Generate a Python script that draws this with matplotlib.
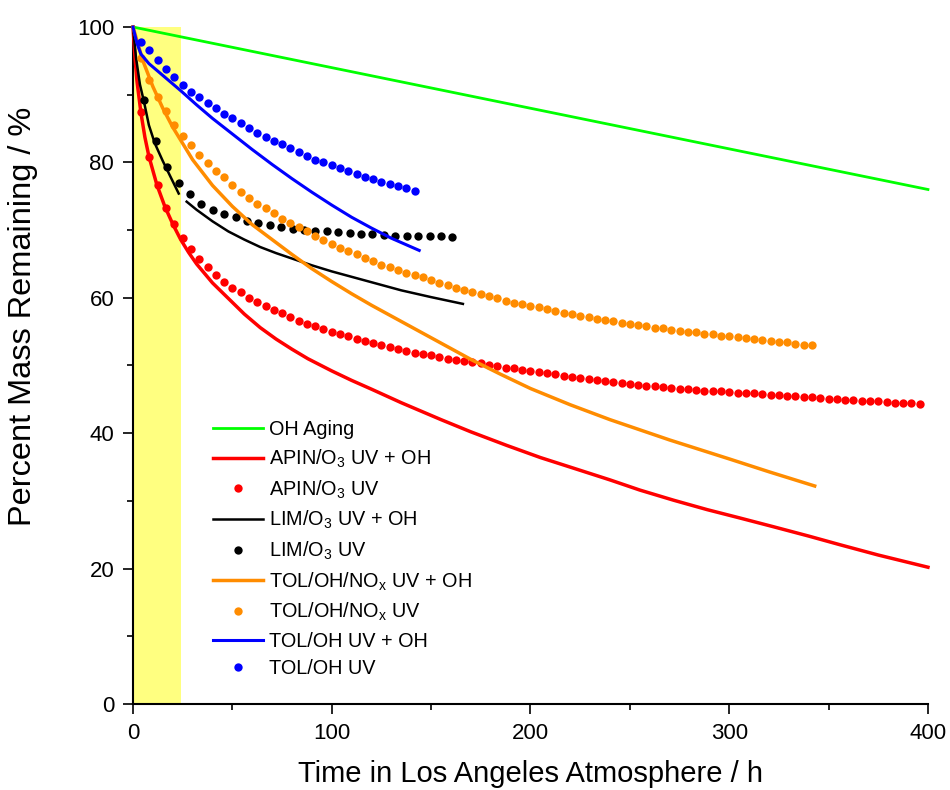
import matplotlib
matplotlib.use("Agg")
import matplotlib.pyplot as plt
from matplotlib.lines import Line2D
from matplotlib.ticker import MultipleLocator

plt.rcParams['font.family'] = ['Liberation Sans', 'DejaVu Sans']
plt.rcParams['mathtext.fontset'] = 'custom'
plt.rcParams['mathtext.rm'] = 'Liberation Sans'
plt.rcParams['mathtext.it'] = 'Liberation Sans:italic'
plt.rcParams['mathtext.default'] = 'regular'

# ---------------- data ----------------
# sampling times of the dotted series (h)
t_dots = [4.2, 8.3, 12.5, 16.7, 20.8, 25, 29.2, 33.3, 37.5, 41.7,
          45.8, 50, 54.2, 58.3, 62.5, 66.7, 70.8, 75, 79.2, 83.3,
          87.5, 91.7, 95.8, 100, 104.2, 108.3, 112.5, 116.7, 120.8, 125,
          129.2, 133.3, 137.5, 141.7, 145.8, 150, 154.2, 158.3, 162.5, 166.7,
          170.8, 175, 179.2, 183.3, 187.5, 191.7, 195.8, 200, 204.2, 208.3,
          212.5, 216.7, 220.8, 225, 229.2, 233.3, 237.5, 241.7, 245.8, 250,
          254.2, 258.3, 262.5, 266.7, 270.8, 275, 279.2, 283.3, 287.5, 291.7,
          295.8, 300, 304.2, 308.3, 312.5, 316.7, 320.8, 325, 329.2, 333.3,
          337.5, 341.7, 345.8, 350, 354.2, 358.3, 362.5, 366.7, 370.8, 375,
          379.2, 383.3, 387.5, 391.7, 395.8]

t_lim_dots = [5.7, 11.5, 17.2, 23.0, 28.7, 34.4, 40.2, 45.9, 51.7, 57.4,
              63.1, 68.9, 74.6, 80.4, 86.1, 91.8, 97.6, 103.3, 109.1, 114.8,
              120.5, 126.3, 132.0, 137.8, 143.5, 149.2, 155.0, 160.7]

apin_uv = [87.5, 80.8, 76.6, 73.3, 70.9, 68.8, 67.2, 65.8, 64.6, 63.4,
           62.4, 61.5, 60.8, 60.0, 59.4, 58.8, 58.2, 57.7, 57.1, 56.6,
           56.2, 55.8, 55.4, 55.0, 54.6, 54.3, 53.9, 53.6, 53.3, 53.0,
           52.8, 52.4, 52.2, 51.9, 51.7, 51.5, 51.2, 51.0, 50.8, 50.7,
           50.5, 50.3, 50.1, 49.9, 49.7, 49.6, 49.4, 49.2, 49.1, 48.9,
           48.7, 48.5, 48.3, 48.2, 48.0, 47.9, 47.7, 47.6, 47.4, 47.3,
           47.1, 47.0, 46.9, 46.8, 46.7, 46.6, 46.5, 46.4, 46.3, 46.3,
           46.2, 46.1, 46.0, 45.9, 45.9, 45.8, 45.7, 45.6, 45.5, 45.5,
           45.4, 45.3, 45.2, 45.1, 45.0, 44.9, 44.9, 44.8, 44.7, 44.7,
           44.6, 44.5, 44.5, 44.4, 44.3]

tol_nox_uv = [95.4, 92.2, 89.7, 87.6, 85.5, 83.9, 82.5, 81.1, 79.9, 78.8,
              77.8, 76.7, 75.7, 74.8, 73.9, 73.2, 72.5, 71.7, 71.1, 70.5,
              69.8, 69.2, 68.6, 68.0, 67.4, 66.9, 66.4, 65.9, 65.4, 64.9,
              64.5, 64.1, 63.7, 63.3, 63.0, 62.6, 62.2, 61.9, 61.5, 61.2,
              60.9, 60.6, 60.3, 59.9, 59.6, 59.3, 59.1, 58.8, 58.6, 58.3,
              58.0, 57.8, 57.6, 57.3, 57.1, 56.9, 56.7, 56.5, 56.3, 56.2,
              56.0, 55.8, 55.6, 55.5, 55.3, 55.1, 55.0, 54.9, 54.7, 54.6,
              54.4, 54.3, 54.2, 54.0, 53.9, 53.8, 53.6, 53.5, 53.4, 53.2,
              53.1, 53.0]

tol_uv = [97.8, 96.6, 95.1, 93.8, 92.6, 91.4, 90.4, 89.6, 88.8, 88.0,
          87.2, 86.5, 85.8, 85.1, 84.4, 83.8, 83.2, 82.7, 82.1, 81.5,
          81.0, 80.4, 80.0, 79.6, 79.2, 78.7, 78.3, 77.9, 77.5, 77.1,
          76.8, 76.5, 76.2, 75.8]

lim_uv = [89.2, 83.1, 79.3, 76.9, 75.3, 73.9, 73.0, 72.4, 71.9, 71.4,
          71.0, 70.7, 70.4, 70.2, 70.0, 69.9, 69.8, 69.7, 69.5, 69.4,
          69.4, 69.3, 69.2, 69.1, 69.1, 69.1, 69.1, 69.0]

oh_t = [0, 400]
oh_v = [100, 76]

apin_line_t = [0, 1, 2, 4, 6, 8, 12, 16, 20, 24, 28, 32, 40, 48, 56, 64, 72, 80, 88,
               100, 110, 120, 135, 155, 170, 188, 205, 222, 240, 255, 272, 289, 305,
               322, 340, 356, 375, 400]
apin_line_v = [100, 95.5, 92.0, 87.3, 83.7, 80.9, 76.7, 73.5, 70.9, 68.6, 66.7, 65.0,
               62.2, 59.9, 57.6, 55.6, 53.9, 52.4, 51.0, 49.2, 47.8, 46.5, 44.5, 42.0,
               40.2, 38.2, 36.4, 34.8, 33.1, 31.6, 30.1, 28.7, 27.5, 26.2, 24.8, 23.5,
               22.0, 20.2]

lim_line1_t = [0, 1.5, 3.5, 5.5, 8, 11, 15, 19, 23]
lim_line1_v = [100, 95.5, 91.5, 89.0, 85.5, 82.8, 80.2, 77.8, 75.4]
lim_line2_t = [27, 32, 40, 48, 56, 64, 72, 80, 90, 100, 110, 120, 135, 150, 166]
lim_line2_v = [74.2, 73.0, 71.3, 69.8, 68.6, 67.5, 66.6, 65.8, 64.8, 63.9, 63.1,
               62.3, 61.1, 60.1, 59.1]

tol_nox_line_t = [0, 5, 10, 15, 20, 25, 30, 40, 50, 60, 70, 80, 90, 100, 110, 120,
                  130, 140, 155, 170, 185, 200, 220, 240, 255, 270, 285, 300, 320, 343]
tol_nox_line_v = [100, 95.0, 91.2, 88.0, 85.2, 82.8, 80.4, 76.6, 73.5, 70.8, 68.6,
                  66.4, 64.3, 62.4, 60.6, 58.9, 57.3, 55.7, 53.3, 50.9, 48.7, 46.6,
                  44.2, 42.0, 40.5, 39.0, 37.6, 36.2, 34.3, 32.2]

tol_line_t = [0, 2, 4, 8, 16, 24, 32, 40, 50, 60, 70, 80, 90, 100, 110, 120, 130, 144]
tol_line_v = [100, 97.6, 96.0, 94.6, 92.6, 90.6, 88.5, 86.5, 84.2, 81.9, 79.7, 77.6,
              75.6, 73.7, 71.9, 70.3, 68.8, 67.0]

labels = ["OH Aging",
          "APIN/O$_3$ UV + OH",
          "APIN/O$_3$ UV",
          "LIM/O$_3$ UV + OH",
          "LIM/O$_3$ UV",
          "TOL/OH/NO$_x$ UV + OH",
          "TOL/OH/NO$_x$ UV",
          "TOL/OH UV + OH",
          "TOL/OH UV"]

uv_hours = [0, 24]

GREEN, RED, BLACK, ORANGE, BLUE = "#00ff00", "#ff0000", "#000000", "#ff8c00", "#0000ff"

# ---------------- figure ----------------
fig = plt.figure(figsize=(9.5, 7.9), dpi=100)
ax = fig.add_axes([0.14, 0.1089, 0.8368, 0.8569])

ax.axvspan(uv_hours[0], uv_hours[1], color="#ffff80", zorder=0, lw=0)

ms = 6
lw_g, lw_r, lw_k, lw_o, lw_b = 2.0, 2.5, 1.8, 2.5, 2.2
ax.plot(oh_t, oh_v, color=GREEN, lw=lw_g, clip_on=False, zorder=3)
ax.plot(apin_line_t, apin_line_v, color=RED, lw=lw_r, clip_on=False, zorder=3)
ax.plot(t_dots[:len(apin_uv)], apin_uv, 'o', color=RED, ms=ms, mew=0, clip_on=False, zorder=3)
ax.plot(lim_line1_t, lim_line1_v, color=BLACK, lw=lw_k, clip_on=False, zorder=3)
ax.plot(lim_line2_t, lim_line2_v, color=BLACK, lw=lw_k, clip_on=False, zorder=3)
ax.plot(t_lim_dots, lim_uv, 'o', color=BLACK, ms=ms, mew=0, clip_on=False, zorder=3)
ax.plot(tol_nox_line_t, tol_nox_line_v, color=ORANGE, lw=lw_o, clip_on=False, zorder=3)
ax.plot(t_dots[:len(tol_nox_uv)], tol_nox_uv, 'o', color=ORANGE, ms=ms, mew=0, clip_on=False, zorder=3)
ax.plot(tol_line_t, tol_line_v, color=BLUE, lw=lw_b, clip_on=False, zorder=3)
ax.plot(t_dots[:len(tol_uv)], tol_uv, 'o', color=BLUE, ms=ms, mew=0, clip_on=False, zorder=3)

ax.set_xlim(0, 400)
ax.set_ylim(0, 100)

for s in ["top", "right"]:
    ax.spines[s].set_visible(False)
for s in ["left", "bottom"]:
    ax.spines[s].set_linewidth(1.5)

ax.xaxis.set_major_locator(MultipleLocator(100))
ax.xaxis.set_minor_locator(MultipleLocator(50))
ax.yaxis.set_major_locator(MultipleLocator(20))
ax.yaxis.set_minor_locator(MultipleLocator(10))
ax.tick_params(which="major", direction="out", length=7.5, width=1.2, labelsize=16, pad=6)
ax.tick_params(which="minor", direction="out", length=4.5, width=1.2)

ax.set_xlabel("Time in Los Angeles Atmosphere / h", fontsize=21)
ax.set_ylabel("Percent Mass Remaining / %", fontsize=23.4)
ax.xaxis.set_label_coords(0.5, -0.083)
ax.yaxis.set_label_coords(-0.12, 0.572)

handles = [
    Line2D([], [], color=GREEN, lw=lw_g),
    Line2D([], [], color=RED, lw=lw_r),
    Line2D([], [], color=RED, marker='o', ls='none', ms=ms, mew=0),
    Line2D([], [], color=BLACK, lw=lw_k),
    Line2D([], [], color=BLACK, marker='o', ls='none', ms=ms, mew=0),
    Line2D([], [], color=ORANGE, lw=lw_o),
    Line2D([], [], color=ORANGE, marker='o', ls='none', ms=ms, mew=0),
    Line2D([], [], color=BLUE, lw=lw_b),
    Line2D([], [], color=BLUE, marker='o', ls='none', ms=ms, mew=0),
]
ax.legend(handles, labels, loc="upper left", bbox_to_anchor=(0.1006, 0.419),
          frameon=False, fontsize=14.3, handlelength=2.5, handletextpad=0.3,
          labelspacing=0.42, borderpad=0, borderaxespad=0, numpoints=1)

fig.savefig("out.png", dpi=100)
